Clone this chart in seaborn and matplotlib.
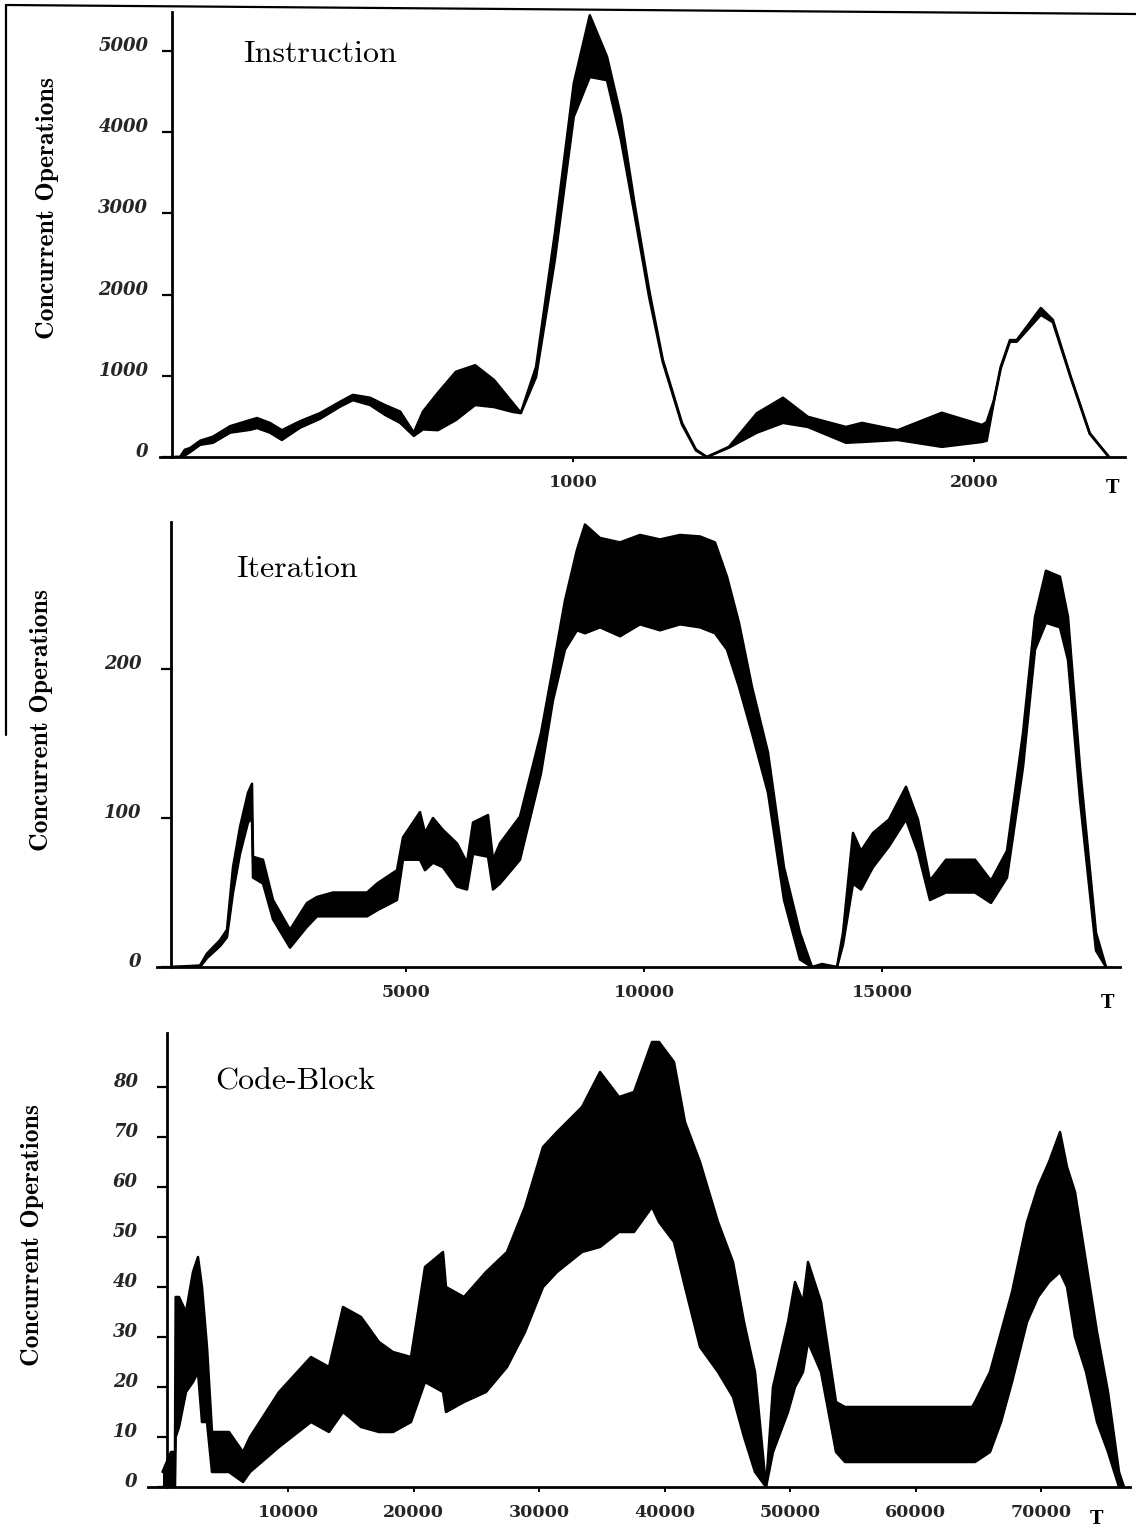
import matplotlib
matplotlib.use("Agg")
import matplotlib.pyplot as plt
from matplotlib.lines import Line2D
import seaborn as sns

# ---------------- data ----------------
instr_t = [7, 20, 32, 45, 70, 102, 145, 195, 212, 244, 274, 319, 369, 419, 451, 494, 531, 569, 603, 626,
           663, 708, 756, 803, 850, 870, 908, 955, 1002, 1042, 1085, 1120, 1155, 1190, 1224, 1272, 1307,
           1334, 1389, 1459, 1524, 1586, 1681, 1721, 1810, 1920, 2020, 2032, 2050, 2067, 2090, 2107, 2167,
           2197, 2242, 2289, 2337]
instr_hi = [0, 0, 90, 110, 200, 250, 380, 455, 480, 420, 330, 440, 540, 680, 765, 730, 640, 560, 300, 560,
            790, 1050, 1130, 950, 665, 545, 1110, 2760, 4600, 5440, 4930, 4190, 3080, 2060, 1200, 420, 90,
            0, 125, 540, 730, 495, 370, 420, 330, 545, 395, 430, 700, 1110, 1440, 1440, 1835,
            1690, 985, 295, 0]
instr_lo = [0, 0, 20, 60, 150, 175, 300, 335, 357, 300, 210, 360, 470, 620, 700, 640, 520, 420, 260, 340,
            330, 455, 640, 615, 555, 540, 985, 2430, 4190, 4680, 4640, 3900, 2950, 1970, 1170, 400, 80,
            0, 115, 300, 420, 370, 175, 185, 210, 125, 185, 200, 680, 1090, 1420, 1420, 1750,
            1660, 970, 285, 0]

iter_t = [63, 672, 819, 1092, 1239, 1366, 1513, 1681, 1765, 1786, 1996, 2206, 2563, 2920, 3130, 3466, 4181,
          4391, 4811, 4937, 5294, 5399, 5567, 5777, 6071, 6282, 6408, 6723, 6828, 6975, 7395, 7836, 8088,
          8340, 8592, 8760, 9076, 9496, 9916, 10336, 10756, 11176, 11492, 11744, 11996, 12269, 12605,
          12941, 13277, 13529, 13739, 14055, 14181, 14391, 14559, 14811, 15147, 15504, 15756, 16008,
          16345, 16954, 17290, 17626, 17962, 18214, 18445, 18739, 18908, 19160, 19496, 19706]
iter_hi = [0, 1, 9, 18, 25, 67, 94, 117, 123, 74, 72, 45, 25, 43, 47, 50, 50, 56, 65, 87, 104, 90, 100, 92,
           83, 70, 97, 102, 72, 83, 101, 157, 201, 246, 280, 297, 288, 285, 290, 287, 290, 289, 285, 262,
           231, 188, 144, 67, 23, 0, 2, 0, 23, 90, 78, 90, 99, 121, 99, 58, 72, 72, 58, 78, 157, 235, 266,
           262, 235, 134, 23, 0]
iter_lo = [0, 0, 6, 14, 20, 50, 76, 97, 100, 60, 56, 32, 13, 27, 34, 34, 34, 38, 45, 72, 72, 65, 70, 67,
           54, 52, 76, 74, 52, 56, 72, 130, 179, 213, 226, 224, 228, 222, 230, 226, 230, 228, 224, 213,
           188, 157, 117, 45, 5, 0, 0, 0, 15, 56, 52, 67, 81, 99, 77, 45, 50, 50, 43, 60, 134, 213, 231,
           228, 206, 112, 11, 0]

block_t = [0, 677, 996, 1050, 1315, 1873, 2430, 2829, 3147, 3546, 3944, 5299, 6414, 6972, 9283, 11833,
           13267, 14382, 15817, 17251, 18367, 19801, 20916, 22351, 22590, 24024, 25777, 27450, 28884,
           30319, 31434, 33426, 34861, 36375, 37570, 39004, 39562, 40757, 41633, 42829, 44263, 45458,
           46335, 47211, 48088, 48645, 49841, 50398, 51036, 51434, 52470, 53665, 54382, 58765, 64502,
           64741, 65936, 66813, 67689, 68884, 69761, 70637, 71514, 72072, 72709, 73586, 74462, 75339,
           76215, 76614]
block_hi = [3, 7, 7, 38, 38, 35, 43, 46, 40, 28, 11, 11, 7, 10, 19, 26, 24, 36, 34, 29, 27, 26, 44, 47, 40,
            38, 43, 47, 56, 68, 71, 76, 83, 78, 79, 89, 89, 85, 73, 65, 53, 45, 33, 23, 0, 20, 33, 41, 37,
            45, 37, 17, 16, 16, 16, 17, 23, 31, 39, 53, 60, 65, 71, 64, 59, 45, 31, 19, 3, 0]
block_lo = [0, 0, 0, 10, 12, 19, 21, 23, 13, 13, 3, 3, 1, 3, 8, 13, 11, 15, 12, 11, 11, 13, 21, 19, 15,
            17, 19, 24, 31, 40, 43, 47, 48, 51, 51, 56, 53, 49, 40, 28, 23, 18, 10, 3, 0, 7, 15, 20, 23,
            29, 23, 7, 5, 5, 5, 5, 7, 13, 21, 33, 38, 41, 43, 40, 30, 23, 13, 7, 0, 0]

titles = ["Instruction", "Iteration", "Code-Block"]
y_label = "Concurrent Operations"
instr_yticks = [0, 1000, 2000, 3000, 4000, 5000]
instr_xticks = [1000, 2000]
iter_yticks = [0, 100, 200]
iter_xticks = [5000, 10000, 15000]
block_yticks = [0, 10, 20, 30, 40, 50, 60, 70, 80]
block_xticks = [10000, 20000, 30000, 40000, 50000, 60000, 70000]

# ---------------- style ----------------
sns.set_theme(style="ticks")
plt.rcParams['font.family'] = ['DejaVu Serif']
plt.rcParams['axes.linewidth'] = 2.0

W, H = 1136, 1537
fig = plt.figure(figsize=(W / 100, H / 100), dpi=100)


def rect(l, r, top, bottom):
    return [l / W, 1 - bottom / H, (r - l) / W, (bottom - top) / H]


panels = [
    dict(t=instr_t, hi=instr_hi, lo=instr_lo, rect=rect(160, 1125, 12, 457),
         xlim=(-30, 2377), ylim=(0, 5480), spine=0, yt=instr_yticks, xt=instr_xticks,
         title=titles[0], title_xy=(243, 62), ylab_xy=(48, 208), ypad=10, T_xy=(1112, 479)),
    dict(t=iter_t, hi=iter_hi, lo=iter_lo, rect=rect(157, 1120, 522, 967),
         xlim=(-231, 20000), ylim=(0, 298.7), spine=60, yt=iter_yticks, xt=iter_xticks,
         title=titles[1], title_xy=(236, 577), ylab_xy=(42, 720), ypad=14, T_xy=(1107, 994)),
    dict(t=block_t, hi=block_hi, lo=block_lo, rect=rect(148, 1130, 1033, 1487),
         xlim=(-1155, 77090), ylim=(0, 90.8), spine=350, yt=block_yticks, xt=block_xticks,
         title=titles[2], title_xy=(215, 1090), ylab_xy=(33, 1235), ypad=14, T_xy=(1096, 1510)),
]

for p in panels:
    ax = fig.add_axes(p['rect'])
    ax.fill_between(p['t'], p['lo'], p['hi'], color='black', lw=0)
    sns.lineplot(x=p['t'], y=p['hi'], ax=ax, color='black', lw=1.8, sort=False)
    sns.lineplot(x=p['t'], y=p['lo'], ax=ax, color='black', lw=1.8, sort=False)
    ax.set_xlim(*p['xlim'])
    ax.set_ylim(*p['ylim'])
    ax.spines['top'].set_visible(False)
    ax.spines['right'].set_visible(False)
    ax.spines['left'].set_position(('data', p['spine']))
    ax.spines['left'].set_color('black')
    ax.spines['bottom'].set_color('black')
    ax.set_yticks(p['yt'])
    ax.set_yticklabels([str(v) for v in p['yt']])
    ax.set_xticks(p['xt'])
    ax.set_xticklabels([str(v) for v in p['xt']])
    ax.tick_params(axis='y', direction='out', length=7, width=1.6, color='black',
                   pad=p['ypad'], labelsize=13)
    ax.tick_params(axis='x', direction='out', length=3.5, width=1.4, color='black',
                   pad=9, labelsize=12.5)
    for lab in ax.get_yticklabels():
        lab.set_fontstyle('italic')
        lab.set_fontweight('bold')
        lab.set_va('baseline')
    for lab in ax.get_xticklabels():
        lab.set_fontweight('bold')
    ax.set_xlabel('')
    ax.set_ylabel('')
    ax.grid(False)
    ax.set_facecolor('white')

    tx, ty = p['title_xy']
    fig.text(tx / W, 1 - ty / H, p['title'], family='cmr10', fontsize=23,
             ha='left', va='baseline', color='black')
    lx, ly = p['ylab_xy']
    fig.text(lx / W, 1 - ly / H, y_label, family='cmb10', fontsize=18.5, rotation=90,
             ha='center', va='center', color='black')
    Tx, Ty = p['T_xy']
    fig.text(Tx / W, 1 - Ty / H, 'T', fontsize=13, fontweight='bold',
             ha='center', va='top', color='black')

# page border remnants of the scan
fig.add_artist(Line2D([6 / W, 1.0], [1 - 5 / H, 1 - 14 / H], color='black', lw=1.6,
                      transform=fig.transFigure))
fig.add_artist(Line2D([6 / W, 6 / W], [1 - 5 / H, 1 - 735 / H], color='black', lw=1.6,
                      transform=fig.transFigure))

fig.savefig('out.png', dpi=100, facecolor='white')
